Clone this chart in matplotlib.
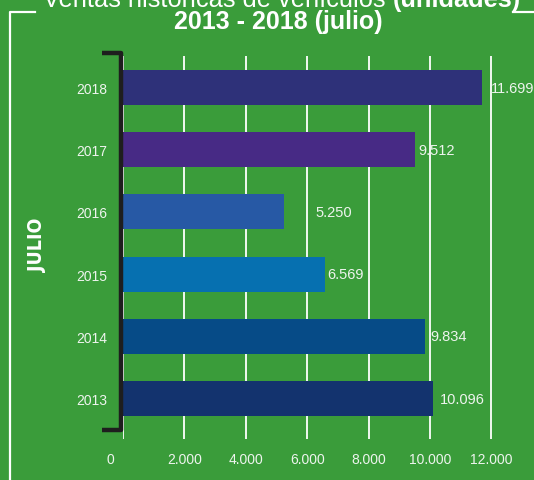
import matplotlib
matplotlib.use("Agg")
import matplotlib.pyplot as plt
from matplotlib.lines import Line2D
from matplotlib.transforms import ScaledTranslation

# ventas de julio, por año
years = ["2013", "2014", "2015", "2016", "2017", "2018"]
units = [10096, 9834, 6569, 5250, 9512, 11699]
value_labels = ["10.096", "9.834", "6.569", "5.250", "9.512", "11.699"]
bar_colors = ["#13336e", "#064b87", "#0670b0", "#2759a5", "#472a85", "#2e3179"]
label_offsets = [7, 5, 3, 31, 3, 9]  # px, like the original layout

xticks = [0, 2000, 4000, 6000, 8000, 10000, 12000]
xtick_labels = ["0", "2.000", "4.000", "6.000", "8.000", "10.000", "12.000"]

green = "#3a9c3a"
txt = "#eef4ee"
W, H = 534, 481

fig = plt.figure(figsize=(W / 100, H / 100), dpi=100)
fig.patch.set_facecolor(green)

# axes placed in pixel coords: left 123, right 534, top 57, bottom 440
ax = fig.add_axes([123 / W, (H - 440) / H, (W - 123) / W, (440 - 57) / H])
ax.set_facecolor(green)

ypos = list(range(len(years)))
ax.barh(ypos, units, height=0.563, color=bar_colors, zorder=3)
ax.set_xlim(0, 411 / 0.0307)
ax.set_ylim(-0.651, 5.507)

ax.set_xticks(xticks)
ax.set_xticklabels(xtick_labels)
ax.set_yticks(ypos)
ax.set_yticklabels(years)
ax.tick_params(length=0, colors=txt, labelsize=10)
ax.tick_params(axis="x", pad=9.5)
ax.tick_params(axis="y", pad=11.5)
for lab in ax.get_xticklabels() + ax.get_yticklabels():
    lab.set_fontfamily("Liberation Sans")
# the "0" label sits a bit left of the axis in the original
zero = ax.xaxis.get_major_ticks()[0].label1
zero.set_transform(zero.get_transform() + ScaledTranslation(-0.13, 0, fig.dpi_scale_trans))
ax.grid(axis="x", color="white", lw=1.3, zorder=1)
for s in ax.spines.values():
    s.set_visible(False)

for y, v, lab, off in zip(ypos, units, value_labels, label_offsets):
    ax.annotate(lab, (v, y), xytext=(off * 0.72, 0), textcoords="offset points",
                va="center", ha="left", color=txt, fontsize=10.5,
                family="Liberation Sans", zorder=4)

# black bracket on the left of the bars
bx = [102, 121, 121, 102]
by = [54, 54, 431, 431]
fig.add_artist(Line2D([b / W for b in bx], [1 - b / H for b in by],
                      color="#1e1e1e", lw=3.2, solid_joinstyle="round",
                      solid_capstyle="butt"))

# white frame lines
fig.add_artist(Line2D([10 / W, 10 / W, 35 / W], [0, 1 - 13 / H, 1 - 13 / H],
                      color="white", lw=1.6))
fig.add_artist(Line2D([513 / W, 1], [1 - 13 / H, 1 - 13 / H], color="white", lw=1.6))

# titles (first line is cut by the top edge, as in the original)
t1 = fig.text(43 / W, 1 - 7 / H, "Ventas históricas de vehículos ", color="white",
              fontsize=18.3, family="Liberation Sans", va="baseline", ha="left")
fig.canvas.draw()
bb = t1.get_window_extent()
fig.text(bb.x1 / W, 1 - 7 / H, "(unidades)", color="white", fontsize=18.3,
         family="Liberation Sans", weight="bold", va="baseline", ha="left")
fig.text(278 / W, 1 - 22 / H, "2013 - 2018 (julio)", color="white", fontsize=18,
         family="Liberation Sans", weight="bold", va="center", ha="center")

fig.text(38 / W, 1 - 245 / H, "JULIO", color="white", fontsize=14, rotation=90,
         family="DejaVu Sans", fontstretch="condensed", weight="bold",
         va="center", ha="center")

fig.savefig("out.png", dpi=100, facecolor=green)
